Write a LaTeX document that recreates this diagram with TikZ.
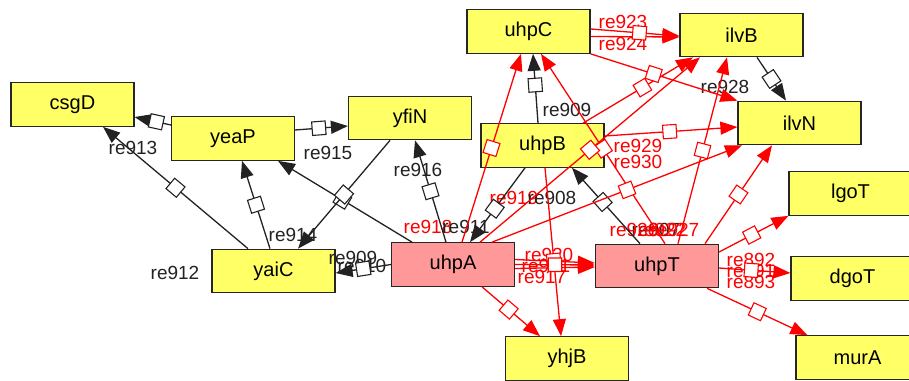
\documentclass[tikz,border=0pt]{standalone}
\usepackage{fontspec}
\setmainfont{Liberation Sans}
\usetikzlibrary{arrows.meta}
\definecolor{geneyellow}{HTML}{FFFF66}
\definecolor{genepink}{HTML}{FF9999}
\definecolor{edgeblack}{HTML}{222222}

\begin{document}
\begin{tikzpicture}[x=1pt,y=-1pt,
  gene/.style={draw=black!85, line width=1.2pt, fill=geneyellow,
    minimum width=123pt, minimum height=43.5pt, inner sep=0pt,
    font=\fontsize{20}{24}\selectfont},
  active/.style={gene, fill=genepink},
  blk/.style={draw=edgeblack, line width=1.3pt, -{Triangle[length=17pt,width=13pt]}},
  rd/.style={draw=red, line width=1.3pt, -{Triangle[length=17pt,width=13pt]}},
  sqb/.style={rectangle, draw=edgeblack, fill=white, line width=1.1pt,
    minimum size=13.5pt, inner sep=0pt, sloped},
  sqr/.style={sqb, draw=red},
  lbl/.style={font=\fontsize{19}{22}\selectfont, inner sep=0pt, text=edgeblack},
  lblr/.style={lbl, text=red}]

\useasboundingbox (0,0) rectangle (909,380);

% species
\node[gene]   (csgD) at (72.5,104.5) {csgD};
\node[gene]   (yeaP) at (233,138.5)  {yeaP};
\node[gene]   (yfiN) at (410,118)    {yfiN};
\node[gene]   (uhpC) at (528.5,31.5) {uhpC};
\node[gene]   (ilvB) at (741.5,35)   {ilvB};
\node[gene]   (ilvN) at (799.5,123)  {ilvN};
\node[gene]   (uhpB) at (542.5,145.5) {uhpB};
\node[gene]   (lgoT) at (850.5,193.5) {lgoT};
\node[gene]   (dgoT) at (852.5,278.5) {dgoT};
\node[gene]   (murA) at (857.5,357.5) {murA};
\node[gene]   (yaiC) at (273.5,271)  {yaiC};
\node[active] (uhpA) at (453,264.5)  {uhpA};
\node[active] (uhpT) at (657,266)    {uhpT};
\node[gene]   (yhjB) at (567,358.5)  {yhjB};

% reaction labels
\node[lbl]  (l912)  at (175,273) {re912};
\node[lbl]  (l913)  at (133,148) {re913};
\node[lbl]  (l915)  at (328,153) {re915};
\node[lbl]  (l914)  at (293,235) {re914};
\node[lbl]  (l916)  at (418,170) {re916};
\node[lbl]  (l909a) at (353,258) {re909};
\node[lbl]  (l910)  at (362,266) {re910};
\node[lbl]  (l909b) at (567,110) {re909};
\node[lbl]  (l928)  at (725,87)  {re928};
\node[lblr] (l919)  at (514,198) {re919};
\node[lbl]  (l908)  at (552,198) {re908};
\node[lblr] (l918)  at (428,227) {re918};
\node[lbl]  (l911)  at (466,227) {re911};
\node[lblr] (l923)  at (623,22)  {re923};
\node[lblr] (l924)  at (623,44)  {re924};
\node[lblr] (l929)  at (638,146) {re929};
\node[lblr] (l930)  at (638,162) {re930};
\node[lblr] (l920)  at (549,255) {re920};
\node[lblr] (l921)  at (546,266) {re921};
\node[lblr] (l917)  at (542,277) {re917};
\node[lbl]  (l907)  at (656,230) {re907};
\node[lblr] (l926)  at (634,230) {re926};
\node[lblr] (l922)  at (662,230) {re922};
\node[lblr] (l927)  at (675,230) {re927};
\node[lblr] (l892)  at (751,260) {re892};
\node[lblr] (l891)  at (751,271) {re891};
\node[lblr] (l893)  at (751,282) {re893};

% black reactions
\draw[blk] ([xshift=-25.5pt]yaiC.north) -- node[sqb,pos=0.5]{} ([xshift=30.5pt]csgD.south);
\draw[blk] ([yshift=13.5pt]yeaP.west) -- node[sqb,pos=0.4]{} ([yshift=-12.5pt]csgD.east);
\draw[blk] ([yshift=8.5pt]yeaP.east) -- node[sqb,pos=0.45]{} ([yshift=-8pt]yfiN.west);
\draw[blk] ([xshift=-3.5pt]yaiC.north) -- node[sqb,pos=0.5]{} ([xshift=9pt]yeaP.south);
\draw[blk] ([xshift=-41pt]uhpA.north) -- node[sqb,pos=0.52]{} ([xshift=45pt]yeaP.south);
\draw[blk] ([xshift=-20pt]yfiN.south) -- node[sqb,pos=0.5]{} ([xshift=24.5pt]yaiC.north);
\draw[blk] ([xshift=-7pt]uhpA.north) -- node[sqb,pos=0.5]{} ([xshift=5pt]yfiN.south);
\draw[blk] (uhpA.west) -- node[sqb,pos=0.5]{} ([yshift=-2pt]yaiC.east);
\draw[blk] ([xshift=-4.5pt]uhpB.north) -- node[sqb,pos=0.55]{} ([xshift=4.5pt]uhpC.south);
\draw[blk] ([xshift=-17.5pt]uhpB.south) -- node[sqb,pos=0.55]{} ([xshift=17pt]uhpA.north);
\draw[blk] ([xshift=-17pt]uhpT.north) -- node[sqb,pos=0.55]{} ([xshift=29.5pt]uhpB.south);
\draw[blk] ([xshift=15.5pt]ilvB.south) -- node[sqb,pos=0.5]{} ([xshift=-13.5pt]ilvN.north);

% red reactions
\draw[rd] ([xshift=9pt]uhpA.north) -- node[sqr,pos=0.5]{} ([xshift=-7.5pt]uhpC.south);
\draw[rd] ([xshift=8pt]uhpT.north) -- node[sqr,pos=0.5]{} ([xshift=12.5pt]uhpC.south);
\draw[rd] ([xshift=27pt]uhpA.north) -- node[sqr,pos=0.5]{} ([xshift=-41.5pt]ilvB.south);
\draw[rd] ([xshift=40.5pt]uhpB.north) -- node[sqr,pos=0.54]{} ([xshift=-48.5pt]ilvB.south);
\draw[rd] ([xshift=39pt]uhpA.north) -- node[sqr,pos=0.54]{} ([xshift=-57.5pt]ilvN.south);
\draw[rd] ([yshift=9.5pt]uhpB.east) -- node[sqr,pos=0.49]{} ([yshift=-4pt]ilvN.west);
\draw[rd] (uhpC.south east) -- node[sqr,pos=0.43]{} (ilvN.north west);
\draw[rd] ([xshift=21pt]uhpT.north) -- node[sqr,pos=0.5]{} ([xshift=-14.5pt]ilvB.south);
\draw[rd] ([xshift=48pt]uhpT.north) -- node[sqr,pos=0.5]{} ([xshift=-27.5pt]ilvN.south);
\draw[rd] ([yshift=-5pt]uhpC.east) -- ([yshift=-2pt]ilvB.west);
\draw[rd] ([yshift=2.5pt]uhpC.east) -- node[sqr,pos=0.55]{} ([yshift=-1pt]ilvB.west);
\draw[rd] ([yshift=14pt]uhpT.east) -- node[sqr,pos=0.47]{} (lgoT.south west);
\draw[rd] ([yshift=-2pt]uhpT.east) -- node[sqr,pos=0.45]{} ([yshift=5.5pt]dgoT.west);
\draw[rd] ([xshift=-12pt]uhpT.south east) -- node[sqr,pos=0.5]{} ([xshift=12pt]murA.north west);
\draw[rd] ([xshift=29pt]uhpA.south) -- node[sqr,pos=0.46]{} ([xshift=-27pt]yhjB.north);
\draw[rd] ([xshift=2.5pt]uhpB.south) -- node[sqr,pos=0.55]{} ([xshift=-6pt]yhjB.north);
\draw[rd] ([yshift=-4pt]uhpA.east) -- ([yshift=-1pt]uhpT.west);
\draw[rd] ([yshift=5pt]uhpA.east) -- ([yshift=3pt]uhpT.west);
\draw[rd] (uhpA.east) -- node[sqr,pos=0.5]{} ([yshift=1pt]uhpT.west);
\end{tikzpicture}
\end{document}
